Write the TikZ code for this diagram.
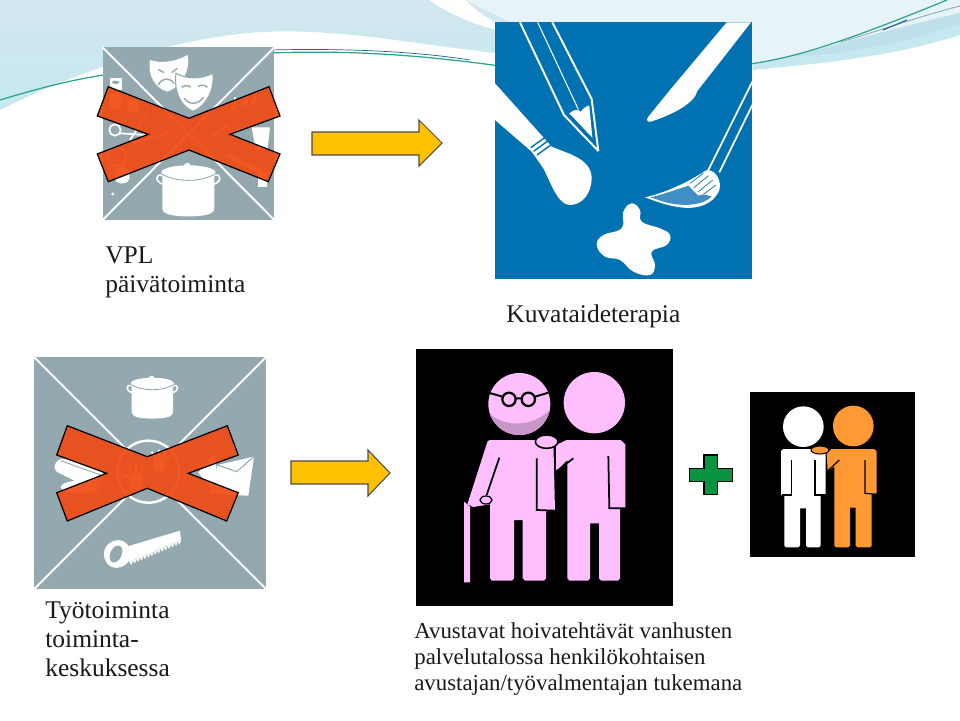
\documentclass[tikz,border=0pt]{standalone}
\usepackage{fontspec}
\setmainfont{Liberation Serif}
\usepackage{tikz}
\usetikzlibrary{calc}
\definecolor{iconGrey}{HTML}{93A9AF}
\definecolor{iconBlue}{HTML}{0072B1}
\definecolor{paintBlue}{HTML}{3F8FC6}
\definecolor{crossRed}{HTML}{F04A14}
\definecolor{arrowYellow}{HTML}{FFC000}
\definecolor{figPink}{HTML}{FFBFFF}
\definecolor{figShade}{HTML}{C896C8}
\definecolor{figOrange}{HTML}{FF9933}
\definecolor{plusGreen}{HTML}{0A9340}
\definecolor{textDark}{HTML}{1A1A1A}
\definecolor{waveLight}{HTML}{E6F3F7}
\definecolor{waveMid}{HTML}{D2E7EF}
\definecolor{waveCyan}{HTML}{C6E8F0}
\definecolor{waveDark}{HTML}{BFDFEB}
\definecolor{waveTeal}{HTML}{2AA58C}
\definecolor{waveNavy}{HTML}{1F5F9F}
\begin{document}
\begin{tikzpicture}[
        x=0.02cm,y=-0.02cm,
        defaultS/.style={
            anchor=north west,
            inner sep=0pt,
            align=left,
            text=textDark,
            font=\fontsize{14.5}{16.5}\selectfont
        },
        smallS/.style={
            defaultS,
            font=\fontsize{13}{14.8}\selectfont
        },
        crossS/.style={
            draw=black,
            line width=0.7pt,
            fill=crossRed,
            fill opacity=0.92
        },
        arrowS/.style={
            draw=black!70,
            line width=0.6pt,
            fill=arrowYellow
        },
        diagS/.style={draw=white,line width=1.1pt},
        slitS/.style={draw=black,line width=1pt},
        potS/.pic={
            \fill[white] (-26,2) -- (26,2) -- (26,36) .. controls (26,43) and (12,44) .. (0,44)
                .. controls (-12,44) and (-26,43) .. (-26,36) -- cycle;
            \draw[white,line width=0.9pt] (-26,3) .. controls (-34,1) and (-33,10) .. (-25,12);
            \draw[white,line width=0.9pt] (26,3) .. controls (34,1) and (33,10) .. (25,12);
            \fill[white] (0,0) ellipse (27 and 7);
            \fill[white] (-1,-6) circle (3.5);
            \draw[iconGrey,line width=0.5pt] (-26,2) .. controls (-12,10) and (12,10) .. (26,2);
        },
    ]
    \useasboundingbox (0,0) rectangle (960,720);
    \fill[white] (0,0) rectangle (960,720);

    % wave in the background
    \shade[top color=waveMid,bottom color=waveCyan] (0,0) -- (520,0) -- (520,56) -- (495,53)
        .. controls (420,45) and (340,28) .. (263,32)
        .. controls (180,36) and (80,70) .. (0,110) -- cycle;
    \fill[waveLight] (465,0) -- (960,0) -- (960,33) .. controls (880,60) and (810,64) .. (753,70)
        -- (520,56) -- (520,30) .. controls (500,15) and (480,8) .. (465,0) -- cycle;
    \fill[waveCyan] (753,63) .. controls (790,58) and (820,50) .. (840,43)
        .. controls (880,32) and (920,24) .. (960,13) -- (960,35) .. controls (890,58) and (810,64) .. (753,70) -- cycle;
    \fill[waveDark] (790,56) .. controls (820,50) and (880,32) .. (960,13) -- (960,24)
        .. controls (900,44) and (840,56) .. (790,56) -- cycle;
    \fill[white] (429,0) .. controls (450,15) and (480,28) .. (510,32)
        .. controls (490,20) and (475,10) .. (465,0) -- cycle;
    \draw[waveTeal,line width=0.7pt] (0,100) .. controls (40,88) and (70,80) .. (110,74);
    \draw[waveTeal,line width=0.7pt] (270,53) .. controls (350,50) and (420,55) .. (500,66);
    \draw[waveNavy,line width=0.4pt] (270,50) .. controls (350,48) and (420,52) .. (470,60);
    \draw[waveTeal,line width=0.7pt] (750,64) .. controls (790,58) and (830,48) .. (947,0);
    \draw[iconGrey,line width=0.5pt] (840,42) .. controls (870,34) and (920,16) .. (960,6);
    \draw[waveNavy,line width=0.6pt] (883,30) -- (907,20);

    % upper left icon
    \begin{scope}[shift={(90,40)},scale=1/3]
        \fill[iconGrey] (38,22) rectangle (553,540);
        \draw[diagS] (38,22) -- (553,540) (553,22) -- (38,540);
        \fill[white] (180,60) .. controls (215,72) and (255,65) .. (293,45)
            .. controls (302,95) and (272,142) .. (232,155)
            .. controls (198,145) and (172,110) .. (180,60) -- cycle;
        \draw[iconGrey,line width=0.8pt] (205,135) .. controls (215,112) and (240,112) .. (252,130);
        \draw[iconGrey,line width=0.8pt] (205,88) -- (222,98) (262,85) -- (245,98);
        \draw[fill=white,draw=iconGrey,line width=0.6pt] (258,100) .. controls (290,118) and (335,118) .. (368,100)
            .. controls (376,150) and (345,200) .. (310,214)
            .. controls (278,204) and (250,160) .. (258,100) -- cycle;
        \draw[iconGrey,line width=0.8pt] (283,175) .. controls (295,195) and (325,195) .. (340,172);
        \draw[iconGrey,line width=0.8pt] (275,142) .. controls (285,135) and (295,135) .. (302,142);
        \draw[iconGrey,line width=0.8pt] (325,140) .. controls (333,134) and (345,134) .. (352,142);
        \pic at (295,397) {potS};
        \fill[white] (60,115) rectangle (95,150);
        \fill[iconGrey] (77,127) ellipse (11 and 5);
        \fill[white,rounded corners=3pt] (58,158) rectangle (95,210);
        \fill[white] (110,180) rectangle (145,215);
        \draw[white,line width=1pt] (75,270) circle (17);
        \draw[white,line width=1pt] (90,280) -- (165,285) (120,300) -- (170,225) (130,310) -- (245,275);
        \draw[white,line width=1pt] (80,350) circle (28);
        \fill[white,rounded corners=3pt] (75,380) rectangle (118,430);
        \fill[white] (68,462) circle (5);
        \fill[white] (430,205) circle (8) (465,190) circle (8) (490,185) circle (8);
        \draw[white,line width=1pt] (436,205) -- (436,170) (470,190) -- (470,165) (496,185) -- (496,160);
        \fill[white] (485,262) -- (540,262) -- (532,330) -- (497,330) -- cycle;
        \draw[white,line width=2pt] (370,290) -- (410,255) (410,345) -- (520,400);
        \fill[white] (505,400) rectangle (532,442);
    \end{scope}
    \draw[crossS] (108.3,86.7) -- (189,118.3) -- (269,86.7) -- (280,116) -- (230,134.3) -- (280,154)
        -- (268.3,181.7) -- (189,150) -- (108.3,181.7) -- (97.3,154) -- (148.3,134.3) -- (97.3,116) -- cycle;

    % upper right icon
    \begin{scope}[shift={(490,15)},scale=1/3]
        \fill[iconBlue] (15,22) rectangle (787,793);
        \begin{scope}
            \clip (15,22) rectangle (787,793);
            \draw[white,line width=1.1pt,join=bevel] (90,22) -- (222,300) -- (325,408) -- (305,252) -- (187,22);
            \draw[white,line width=0.6pt] (143,22) -- (265,283);
            \fill[white] (238,295) .. controls (250,285) and (262,280) .. (272,290)
                .. controls (280,280) and (290,272) .. (298,272) -- (307,368) -- cycle;
            \fill[white] (15,205) -- (185,395) .. controls (230,415) and (305,430) .. (305,490)
                .. controls (305,530) and (280,570) .. (240,570)
                .. controls (205,570) and (185,510) .. (160,460) -- (125,410) -- (15,315) -- cycle;
            \draw[iconBlue,line width=0.8pt] (122,398) -- (167,366) (131,409) -- (176,376) (141,420) -- (185,388);
            \fill[white] (710,22) -- (783,22) -- (622,228) .. controls (615,260) and (560,295) .. (482,320)
                .. controls (470,322) and (468,312) .. (476,304) -- (540,225) -- cycle;
            \draw[white,line width=1pt] (787,200) -- (655,465) (787,270) -- (688,472);
            \fill[white] (465,547) .. controls (520,535) and (590,505) .. (650,465)
                .. controls (680,465) and (695,500) .. (688,525)
                .. controls (670,570) and (620,582) .. (580,578)
                .. controls (540,575) and (500,560) .. (465,547) -- cycle;
            \fill[paintBlue] (482,547) .. controls (530,535) and (570,520) .. (595,512) -- (625,542)
                .. controls (640,535) and (650,540) .. (665,545)
                .. controls (640,570) and (590,572) .. (560,568)
                .. controls (530,565) and (505,555) .. (482,547) -- cycle;
            \draw[iconBlue,line width=0.4pt] (600,505) -- (640,475) (612,518) -- (655,482) (625,530) -- (668,495) (640,538) -- (678,510);
            \fill[white] plot[smooth cycle,tension=0.7] coordinates {(425,565) (400,590) (395,640) (340,660) (320,690)
                (345,725) (390,735) (430,770) (480,780) (495,750) (485,710) (530,690) (540,660) (510,640) (455,620) (450,585)};
        \end{scope}
    \end{scope}

    % lower left icon
    \begin{scope}[shift={(30,350)},scale=1/3]
        \fill[iconGrey] (13,22) rectangle (708,717);
        \draw[diagS] (13,22) -- (708,717) (708,22) -- (13,717);
        \pic[scale=0.8] at (367,100) {potS};
        \draw[fill=iconGrey,draw=white,line width=1.4pt] (355,365) circle (93);
        \fill[white] (318,395) circle (22);
        \foreach \a in {-150,-115,-90,-65}
            \draw[white,line width=1.3pt,line cap=round] (318,395) -- ++(\a:50);
        \fill[white] (388,345) circle (20);
        \foreach \a in {-120,-90,-65,-40}
            \draw[white,line width=1.2pt,line cap=round] (388,345) -- ++(\a:44);
        \fill[white,rounded corners=4pt] (90,320) -- (228,368) -- (200,425) -- (65,358) -- cycle;
        \draw[iconGrey,line width=0.5pt] (92,332) -- (212,375) -- (195,412);
        \fill[white] (150,412) ellipse (58 and 20);
        \fill[white] (562,345) -- (672,320) -- (655,437) -- (540,432) -- cycle;
        \fill[white] (505,368) -- (555,305) -- (560,395) -- (550,425) -- cycle;
        \draw[iconGrey,line width=0.6pt] (562,345) -- (620,365) -- (672,320);
        \fill[white] (290,590) -- (450,542) -- (453,570) -- (298,636) -- cycle;
        \foreach \i in {0,...,14}
            \fill[white] ($(298,636)!\i/15!(453,570)$) -- ++(6,9) -- ++(5,-12) -- cycle;
        \fill[white,rotate around={-25:(262,612)}] (262,612) ellipse (40 and 42);
        \fill[iconGrey,rotate around={-25:(258,612)}] (258,612) ellipse (17 and 27);
    \end{scope}
    \draw[crossS] (67.3,425.7) -- (147.3,456.7) -- (227.3,425.7) -- (238.3,455) -- (188.3,473.3) -- (238.3,492.7)
        -- (226.7,521) -- (147.3,488.3) -- (67.3,521) -- (56.7,492.7) -- (106.7,473.3) -- (56.7,455) -- cycle;

    % block arrows
    \draw[arrowS] (312,132) -- (419,132) -- (419,120) -- (442,143) -- (419,166) -- (419,155) -- (312,155) -- cycle;
    \draw[arrowS] (291,461) -- (368,461) -- (368,450) -- (390,473) -- (368,496) -- (368,484) -- (291,484) -- cycle;

    % old person with helper
    \begin{scope}[shift={(410,345)},scale=1/3]
        \fill[black] (18,12) rectangle (790,782);
        \fill[figPink] (328,177) circle (93);
        \begin{scope}
            \clip (328,177) circle (93);
            \fill[figShade] (225,188) .. controls (260,250) and (380,255) .. (430,180) -- (430,280) -- (225,280) -- cycle;
        \end{scope}
        \draw[black,line width=1.1pt] (235,143) -- (278,155) (375,155) -- (415,143) (317,160) -- (336,160);
        \draw[black,line width=1.3pt] (297,163) circle (20) (355,163) circle (20);
        \fill[figPink] (553,173) circle (92);
        \fill[figPink] (162,470) .. controls (168,472) and (172,480) .. (180,485) -- (180,712) -- (162,712) -- cycle;
        \fill[figPink] (240,285) -- (430,285) -- (435,498) -- (408,498) -- (408,700) -- (402,707) -- (345,707) -- (338,700)
            -- (338,525) -- (312,525) -- (312,700) -- (306,707) -- (246,707) -- (240,700) -- (240,478)
            -- (190,486) -- (172,478) -- (233,288) -- cycle;
        \draw[slitS] (268,338) -- (230,450);
        \draw[slitS] (380,340) -- (380,495) -- (435,497);
        \draw[fill=figPink,draw=black,line width=0.7pt] (228,465) ellipse (18 and 12);
        \fill[figPink] (470,285) -- (632,285) -- (646,298) -- (646,490) -- (630,492) -- (630,700) -- (624,707) -- (574,707) -- (567,700)
            -- (567,535) -- (540,535) -- (540,700) -- (534,707) -- (478,707) -- (472,700) -- (472,345) -- (438,380) -- (438,300) -- cycle;
        \draw[slitS] (438,380) -- (490,340);
        \draw[slitS] (595,333) -- (598,490) -- (646,490);
        \draw[fill=figPink,draw=black,line width=0.9pt] (410,290) ellipse (34 and 20);
    \end{scope}

    % green plus
    \begin{scope}[shift={(680,385)},scale=1/3]
        \draw[fill=plusGreen,draw=black,line width=0.6pt] (72,210) -- (112,210) -- (112,250) -- (157,250) -- (157,290)
            -- (112,290) -- (112,328) -- (72,328) -- (72,290) -- (28,290) -- (28,250) -- (72,250) -- cycle;

        % smaller pair of people
        \fill[black] (210,22) rectangle (705,517);
        \fill[white] (370,125) circle (61);
        \fill[figOrange] (520,123) circle (61);
        \fill[white] (310,192) -- (437,192) -- (437,330) -- (422,332) -- (422,482) -- (417,487) -- (383,487) -- (378,482)
            -- (378,370) -- (360,370) -- (360,482) -- (355,487) -- (318,487) -- (313,482) -- (313,332) -- (303,330) -- (303,198) -- cycle;
        \draw[slitS,line width=0.7pt] (335,225) -- (335,330) -- (305,330);
        \draw[slitS,line width=0.7pt] (405,225) -- (405,330) -- (437,330);
        \fill[figOrange] (455,192) -- (582,192) -- (590,200) -- (590,325) -- (575,328) -- (575,482) -- (570,487) -- (532,487) -- (527,482)
            -- (527,368) -- (510,368) -- (510,482) -- (505,487) -- (468,487) -- (463,482) -- (463,245) -- (443,258) -- (440,205) -- cycle;
        \draw[slitS,line width=0.7pt] (555,225) -- (555,325) -- (590,328);
        \draw[slitS,line width=0.7pt] (443,258) -- (478,225);
        \draw[fill=figOrange,draw=black,line width=0.6pt] (420,195) ellipse (27 and 12);
    \end{scope}

    % labels
    \node[defaultS] (VPL) at (105,246) {VPL\\päivätoiminta};
    \node[defaultS] (Kuva) at (506,304) {Kuvataideterapia};
    \node[defaultS] (Tyo) at (45,601) {Työtoiminta\\toiminta-\\keskuksessa};
    \node[smallS] (Avustavat) at (414,622.5) {Avustavat hoivatehtävät vanhusten\\palvelutalossa henkilökohtaisen\\avustajan/työvalmentajan tukemana};
\end{tikzpicture}
\end{document}
